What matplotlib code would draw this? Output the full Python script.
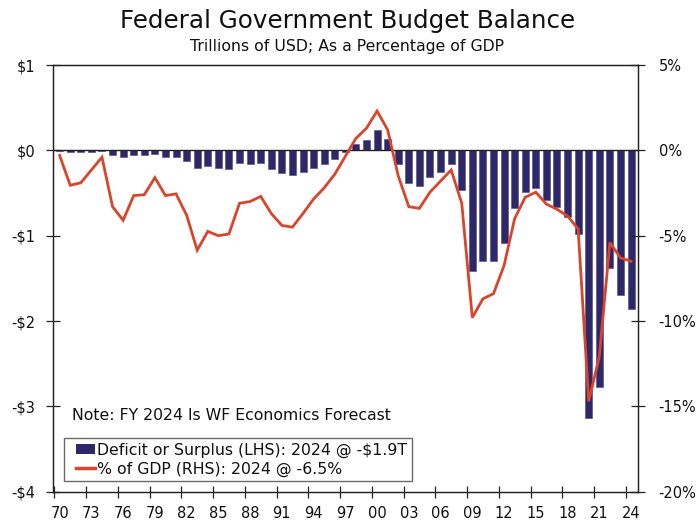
import matplotlib
matplotlib.use("Agg")
import matplotlib.pyplot as plt
from matplotlib.patches import Patch
from matplotlib.lines import Line2D
from matplotlib.legend_handler import HandlerPatch, HandlerLine2D
import numpy as np

plt.rcParams["font.family"] = ["DejaVu Sans"]

# Fiscal years 1970-2024 (2024 is a forecast)
years = list(range(1970, 2025))

# Budget deficit (-) or surplus (+), trillions of USD
balance_usd = [
    -0.003, -0.023, -0.023, -0.015, -0.006, -0.053, -0.074, -0.054, -0.059, -0.041,
    -0.074, -0.079, -0.128, -0.208, -0.185, -0.212, -0.221, -0.150, -0.155, -0.153,
    -0.221, -0.269, -0.290, -0.255, -0.203, -0.164, -0.107, -0.022, 0.069, 0.126,
    0.236, 0.128, -0.158, -0.378, -0.413, -0.318, -0.248, -0.161, -0.459, -1.413,
    -1.294, -1.300, -1.087, -0.680, -0.485, -0.442, -0.585, -0.665, -0.779, -0.984,
    -3.132, -2.775, -1.376, -1.695, -1.86,
]

# Budget balance as a percentage of GDP
balance_pct = [
    -0.3, -2.05, -1.9, -1.15, -0.4, -3.3, -4.1, -2.65, -2.6, -1.6,
    -2.65, -2.55, -3.8, -5.85, -4.75, -5.0, -4.9, -3.1, -3.0, -2.7,
    -3.7, -4.4, -4.5, -3.7, -2.85, -2.2, -1.4, -0.35, 0.7, 1.3,
    2.3, 1.2, -1.5, -3.3, -3.4, -2.45, -1.8, -1.15, -3.1, -9.8,
    -8.7, -8.4, -6.75, -4.0, -2.75, -2.45, -3.15, -3.45, -3.85, -4.6,
    -14.7, -12.1, -5.4, -6.3, -6.5,
]

left_ticks = [1, 0, -1, -2, -3, -4]
left_labels = ["$1", "$0", "-$1", "-$2", "-$3", "-$4"]
right_ticks = [5, 0, -5, -10, -15, -20]
right_labels = ["5%", "0%", "-5%", "-10%", "-15%", "-20%"]
year_labels = [f"{y % 100:02d}" for y in years[::3]]

BAR_COLOR = "#2F2868"
LINE_COLOR = "#D9442B"
AXIS_COLOR = "#222222"
TEXT_COLOR = "#111111"

W, H = 697, 521
fig = plt.figure(figsize=(W / 100, H / 100), dpi=100)
fig.patch.set_facecolor("white")

ax_l, ax_r, ax_t, ax_b = 53.3, 637.7, 65.0, 491.7
ax = fig.add_axes([ax_l / W, 1 - ax_b / H, (ax_r - ax_l) / W, (ax_b - ax_t) / H])
ax2 = ax.twinx()

x = np.arange(len(years))
ax.bar(x, balance_usd, width=0.66, color=BAR_COLOR, edgecolor="#4a4480",
       linewidth=0.4, zorder=2)
ax.axhline(0, color=AXIS_COLOR, linewidth=1.0, zorder=3)
ax2.plot(x, balance_pct, color=LINE_COLOR, linewidth=2.0, zorder=4,
         solid_joinstyle="miter")

ax.set_xlim(-0.6, len(years) - 0.37)
ax.set_ylim(-4, 1)
ax2.set_ylim(-20, 5)

for a in (ax, ax2):
    for s in a.spines.values():
        s.set_color(AXIS_COLOR)
        s.set_linewidth(0.9)

# Category ticks sit on the boundaries between years; labels sit at year centers
ax.set_xticks(x[::3] - 0.5)
ax.set_xticklabels([""] * len(year_labels))
ax.set_xticks(x[::3], minor=True)
ax.set_xticklabels(year_labels, minor=True)
ax.tick_params(axis="x", which="major", direction="inout", length=9,
               width=0.9, color=AXIS_COLOR)
ax.tick_params(axis="x", which="minor", length=0, pad=10, labelsize=10.5,
               labelcolor=TEXT_COLOR)

ax.set_yticks(left_ticks)
ax.set_yticklabels(left_labels)
ax.tick_params(axis="y", direction="inout", length=10, width=0.9,
               color=AXIS_COLOR, pad=8, labelsize=10.5, labelcolor=TEXT_COLOR)
ax2.set_yticks(right_ticks)
ax2.set_yticklabels(right_labels)
ax2.tick_params(axis="y", direction="inout", length=10, width=0.9,
                color=AXIS_COLOR, pad=10, labelsize=10.5, labelcolor=TEXT_COLOR)

fig.text(347.5 / W, 1 - 21 / H, "Federal Government Budget Balance",
         ha="center", va="center", fontsize=17.7, color=TEXT_COLOR)
fig.text(347.5 / W, 1 - 46 / H, "Trillions of USD; As a Percentage of GDP",
         ha="center", va="center", fontsize=11.3, color=TEXT_COLOR)

ax.text((72 - ax_l) / (ax_r - ax_l), (ax_b - 416) / (ax_b - ax_t),
        "Note: FY 2024 Is WF Economics Forecast", transform=ax.transAxes,
        ha="left", va="center", fontsize=11.3, color=TEXT_COLOR)

handles = [
    Patch(facecolor=BAR_COLOR, edgecolor="none"),
    Line2D([0], [0], color=LINE_COLOR, linewidth=2.5),
]
labels = [
    f"Deficit or Surplus (LHS): {years[-1]} @ -${abs(balance_usd[-1]):.1f}T",
    f"% of GDP (RHS): {years[-1]} @ {balance_pct[-1]:.1f}%",
]
leg = ax2.legend(handles, labels, loc="upper left",
                 bbox_to_anchor=((64 - ax_l) / (ax_r - ax_l), (ax_b - 438) / (ax_b - ax_t)),
                 borderaxespad=0, fancybox=False, frameon=True, fontsize=11.3,
                 handlelength=1.7, handleheight=0.55, handletextpad=0.13,
                 labelspacing=0.22, borderpad=0.3,
                 handler_map={Patch: HandlerPatch(xpad=0.45),
                              Line2D: HandlerLine2D(xpad=0.45)})
leg.get_frame().set_edgecolor("#444444")
leg.get_frame().set_linewidth(1.0)
for t in leg.get_texts():
    t.set_color(TEXT_COLOR)

fig.savefig("out.png", dpi=100)
